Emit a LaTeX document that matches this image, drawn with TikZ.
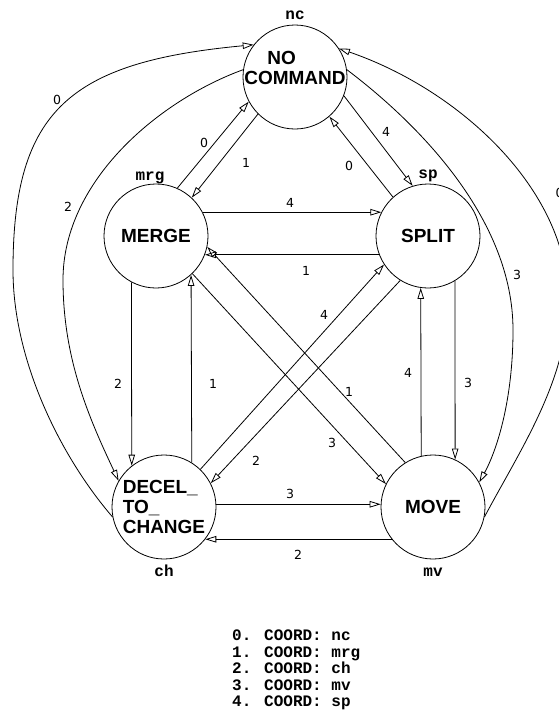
\documentclass[tikz,border=0pt]{standalone}
\usepackage{fontspec}
\newfontfamily\statefont{Liberation Sans}
\newfontfamily\tagfont{Liberation Mono}
\newfontfamily\numfont{DejaVu Sans}
\usetikzlibrary{arrows.meta}

\begin{document}
\begin{tikzpicture}[
  x=1pt,y=-1pt,
  state/.style={draw, circle, minimum size=104pt, inner sep=0pt, line width=0.8pt, align=left, font=\statefont\bfseries\fontsize{19}{20}\selectfont},
  statetext/.style={inner sep=0pt, align=left, font=\statefont\bfseries\fontsize{19}{20}\selectfont},
  tag/.style={font=\tagfont\bfseries\fontsize{16}{16.5}\selectfont, inner sep=0pt, text height=9pt, text depth=3pt},
  legend/.style={font=\tagfont\bfseries\fontsize{16}{16.5}\selectfont, inner sep=0pt, align=left},
  num/.style={font=\numfont\fontsize{12.5}{14}\selectfont, inner sep=0pt},
  arr/.style={-{Triangle[open,length=11pt,width=6.5pt]}, line width=0.8pt}
]
\useasboundingbox (0,0) rectangle (558,715);

% states
\node[state, label={[tag,label distance=2pt]above:nc},
  label={[statetext,yshift=9pt]center:\hspace*{23pt}NO\\COMMAND}] (nc) at (295,77) {};
\node[state, label={[tag,label distance=0pt,xshift=-6pt]above:mrg}] (mrg) at (156,236) {MERGE};
\node[state, label={[tag,label distance=2pt]above:sp}] (sp) at (428,236) {SPLIT};
\node[state, label={[tag,label distance=8pt]below:ch}] (ch) at (164,507) {DECEL\_\\TO\_\\CHANGE};
\node[state, label={[tag,label distance=8pt]below:mv}] (mv) at (433,507) {MOVE};

% straight transitions
\draw[arr] (mrg.66) -- (nc.208) node[num] at (204,143) {0};
\draw[arr] (nc.225) -- (mrg.47) node[num] at (246,163) {1};
\draw[arr] (nc.-21) -- (sp.107) node[num] at (386,132) {4};
\draw[arr] (sp.132) -- (nc.-49) node[num] at (349,166) {0};
\draw[arr] (mrg.27) -- (sp.153) node[num] at (290,203) {4};
\draw[arr] (sp.201) -- (mrg.-21) node[num] at (306,271) {1};
\draw[arr] (mrg.242) -- (ch.128) node[num] at (118,384) {2};
\draw[arr] (ch.58) -- (mrg.-48) node[num] at (213,384) {1};
\draw[arr] (sp.-59) -- (mv.65) node[num] at (468,383) {3};
\draw[arr] (mv.103) -- (sp.262) node[num] at (408,373) {4};
\draw[arr] (ch.3) -- (mv.177) node[num] at (290,494) {3};
\draw[arr] (mv.218) -- (ch.-38) node[num] at (298,555) {2};
\draw[arr] (ch.46) -- (sp.213) node[num] at (324,315) {4};
\draw[arr] (sp.238) -- (ch.27) node[num] at (256,461) {2};
\draw[arr] (mv.122) -- (mrg.-12) node[num] at (349,392) {1};
\draw[arr] (mrg.-46) -- (mv.154) node[num] at (332,443) {3};

% long arcs round the outside
\draw[arr] (ch.191) .. controls (60,456) and (13,360) .. (13,270)
  .. controls (13,110) and (70,62) .. (nc.142) node[num] at (57,100) {0};
\draw[arr] (nc.172) .. controls (160,100) and (63,180) .. (63,280)
  .. controls (63,360) and (90,420) .. (ch.150) node[num] at (68,207) {2};
\draw[arr] (nc.8) .. controls (420,125) and (513,220) .. (513,330)
  .. controls (513,400) and (497,450) .. (mv.28) node[num] at (517,275) {3};
\draw[arr] (mv.-11) .. controls (520,450) and (568,380) .. (568,300)
  .. controls (568,190) and (460,90) .. (nc.33) node[num] at (559.5,193) {0};

% coordinator key
\node[legend, anchor=north west] (key) at (232,630) {0. COORD: nc\\1. COORD: mrg\\2. COORD: ch\\3. COORD: mv\\4. COORD: sp};
\end{tikzpicture}
\end{document}
